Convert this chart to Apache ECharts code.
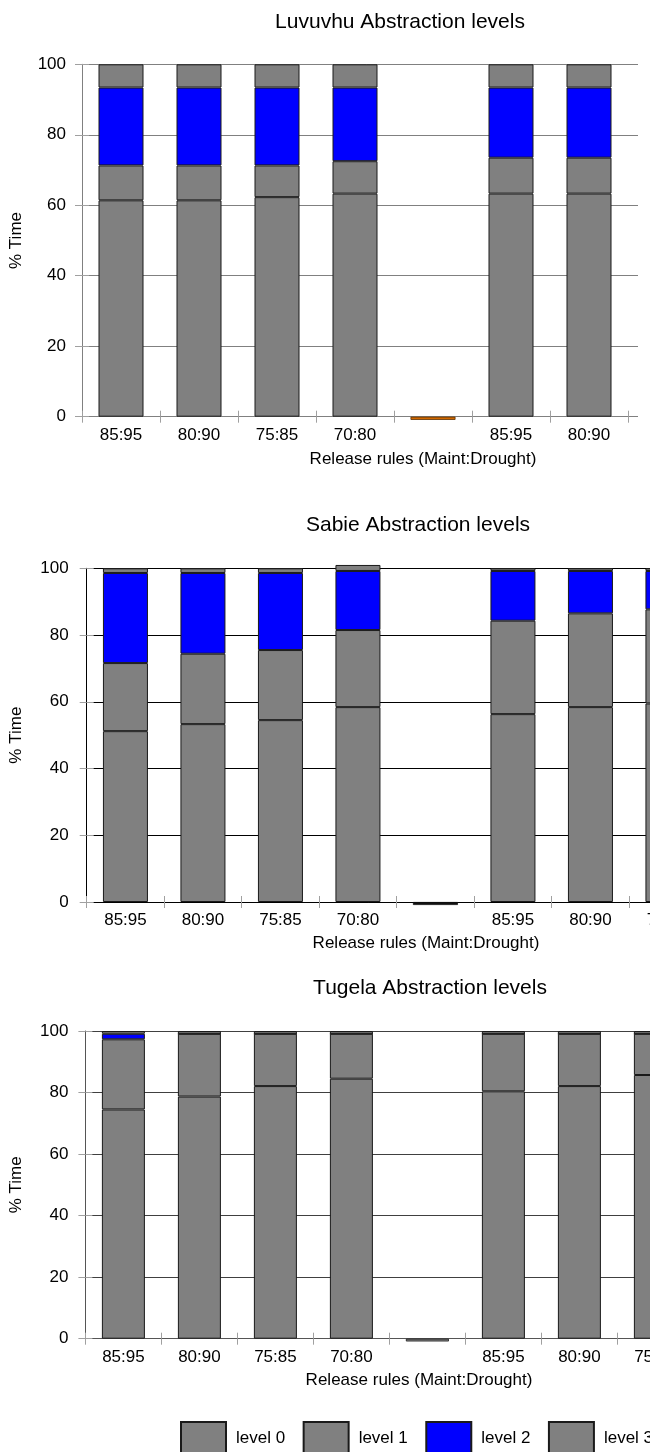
<!DOCTYPE html>
<html>
<head>
<meta charset="utf-8">
<script src="https://cdn.jsdelivr.net/npm/echarts@6/dist/echarts.min.js"></script>
<style>
  html, body { margin: 0; padding: 0; background: #fff; }
  #chart { width: 650px; height: 1452px; }
</style>
</head>
<body>
<div id="chart"></div>
<script>
// Release rules (Maint:Drought); the fifth slot is an empty spacer category
const categories = ['85:95', '80:90', '75:85', '70:80', '', '85:95', '80:90', '75:85'];
const levelNames = ['level 0', 'level 1', 'level 2', 'level 3'];

// % of time spent at each abstraction level (stacked segments)
const luvuvhuLevel0 = [61.4, 61.4, 62.3, 63.3, null, 63.3, 63.3, null];
const luvuvhuLevel1 = [9.9, 9.9, 9.0, 9.2, null, 10.2, 10.2, null];
const luvuvhuLevel2 = [22.1, 22.1, 22.1, 20.9, null, 19.9, 19.9, null];
const luvuvhuLevel3 = [6.6, 6.6, 6.6, 6.6, null, 6.6, 6.6, null];
const luvuvhuSpacer = [null, null, null, null, -0.9, null, null, null];

const sabieLevel0 = [51.2, 53.3, 54.5, 58.4, null, 56.3, 58.4, 59.5];
const sabieLevel1 = [20.4, 21.1, 21.0, 23.1, null, 28.0, 28.1, 28.2];
const sabieLevel2 = [27.0, 24.2, 23.1, 17.7, null, 14.9, 12.7, 11.5];
const sabieLevel3 = [1.4, 1.4, 1.4, 1.8, null, 0.8, 0.8, 0.8];
const sabieSpacer = [null, null, null, null, -0.9, null, null, null];

const tugelaLevel0 = [74.5, 78.7, 82.1, 84.5, null, 80.4, 82.1, 85.7];
const tugelaLevel1 = [22.8, 20.4, 17.0, 14.6, null, 18.7, 17.0, 13.4];
const tugelaLevel2 = [1.8, 0, 0, 0, null, 0, 0, 0];
const tugelaLevel3 = [0.9, 0.9, 0.9, 0.9, null, 0.9, 0.9, 0.9];
const tugelaSpacer = [null, null, null, null, -0.9, null, null, null];

// value axis ticks
const yMin = 0, yMax = 100, yStep = 20;

const FONT = '"Liberation Sans", Arial, Helvetica, sans-serif';
const levelColors = ['#808080', '#808080', '#0000ff', '#808080'];
const TICK_COLOR = '#a0a0a0';

const panels = [
  {
    title: 'Luvuvhu Abstraction levels',
    levels: [luvuvhuLevel0, luvuvhuLevel1, luvuvhuLevel2, luvuvhuLevel3],
    spacer: luvuvhuSpacer, spacerColor: '#d46a00', spacerBorder: '#5a3000',
    grid: { left: 82, top: 64.3, width: 624, height: 352.4 },
    titleX: 400, titleY: 22, nameX: 423, nameY: 459,
    lineColor: '#808080', splitColor: '#808080',
    barWidth: 45, labelMargin: 16, nameGap: 57
  },
  {
    title: 'Sabie Abstraction levels',
    levels: [sabieLevel0, sabieLevel1, sabieLevel2, sabieLevel3],
    spacer: sabieSpacer, spacerColor: '#111111', spacerBorder: '#111111',
    grid: { left: 86.7, top: 568.3, width: 620, height: 333.7 },
    titleX: 418, titleY: 525, nameX: 426, nameY: 943,
    lineColor: '#000000', splitColor: '#000000',
    barWidth: 45, labelMargin: 18, nameGap: 62
  },
  {
    title: 'Tugela Abstraction levels',
    levels: [tugelaLevel0, tugelaLevel1, tugelaLevel2, tugelaLevel3],
    spacer: tugelaSpacer, spacerColor: '#808080', spacerBorder: '#1a1a1a',
    grid: { left: 85.4, top: 1031, width: 608, height: 307.7 },
    titleX: 430, titleY: 988, nameX: 419, nameY: 1380,
    lineColor: '#555555', splitColor: '#404040',
    barWidth: 43, labelMargin: 17, nameGap: 61
  }
];

const grids = [], xAxes = [], yAxes = [], series = [], graphics = [];

panels.forEach((p, i) => {
  grids.push(Object.assign({ containLabel: false, outerBoundsMode: 'none' }, p.grid));

  // main category axis: labels + ticks below the line
  xAxes.push({
    type: 'category', gridIndex: i, data: categories, position: 'bottom',
    axisLine: { show: true, lineStyle: { color: p.lineColor, width: 1 } },
    axisTick: { show: true, inside: false, length: 6, lineStyle: { color: TICK_COLOR } },
    axisLabel: { interval: 0, margin: 10, color: '#000', fontSize: 17, fontFamily: FONT },
    splitLine: { show: false }
  });
  // companion axis: the same ticks drawn above the line, so they cross it
  xAxes.push({
    type: 'category', gridIndex: i, data: categories, position: 'bottom',
    axisLine: { show: false },
    axisTick: { show: true, inside: true, length: 6, lineStyle: { color: TICK_COLOR } },
    axisLabel: { show: false },
    splitLine: { show: false }
  });

  yAxes.push({
    type: 'value', gridIndex: i, min: yMin, max: yMax, interval: yStep, position: 'left',
    name: '% Time', nameLocation: 'middle', nameGap: p.nameGap, nameRotate: 90,
    nameTextStyle: { color: '#000', fontSize: 17, fontFamily: FONT },
    axisLine: { show: true, lineStyle: { color: p.lineColor, width: 1 } },
    axisTick: { show: true, inside: false, length: 7, lineStyle: { color: TICK_COLOR } },
    axisLabel: { margin: p.labelMargin, color: '#000', fontSize: 17, fontFamily: FONT },
    splitLine: { show: true, lineStyle: { color: p.splitColor, width: 1 } }
  });
  yAxes.push({
    type: 'value', gridIndex: i, min: yMin, max: yMax, interval: yStep, position: 'left',
    axisLine: { show: false },
    axisTick: { show: true, inside: true, length: 7, lineStyle: { color: TICK_COLOR } },
    axisLabel: { show: false },
    splitLine: { show: false }
  });

  p.levels.forEach((vals, k) => {
    series.push({
      type: 'bar', name: levelNames[k], xAxisIndex: 2 * i, yAxisIndex: 2 * i,
      stack: 'panel' + i, data: vals, barWidth: p.barWidth, clip: false,
      itemStyle: { color: levelColors[k], borderColor: '#1a1a1a', borderWidth: 1 },
      emphasis: { disabled: true }
    });
  });
  series.push({
    type: 'bar', name: 'spacer', xAxisIndex: 2 * i, yAxisIndex: 2 * i,
    stack: 'panel' + i, data: p.spacer, barWidth: p.barWidth, clip: false,
    itemStyle: { color: p.spacerColor, borderColor: p.spacerBorder, borderWidth: 0.8 },
    emphasis: { disabled: true }
  });

  graphics.push({
    type: 'text', z: 110,
    style: { text: p.title, x: p.titleX, y: p.titleY, textAlign: 'center', textVerticalAlign: 'middle',
             font: '21px ' + FONT, fill: '#000' }
  });
  graphics.push({
    type: 'text', z: 110,
    style: { text: 'Release rules (Maint:Drought)', x: p.nameX, y: p.nameY, textAlign: 'center',
             textVerticalAlign: 'middle', font: '17px ' + FONT, fill: '#000' }
  });
});

// the top panel's plot area stops short of the right edge
graphics.push({
  type: 'rect', z: 100,
  shape: { x: 638, y: 40, width: 20, height: 420 },
  style: { fill: '#ffffff' }
});

const chart = echarts.init(document.getElementById('chart'), null, { renderer: 'canvas' });
chart.setOption({
  animation: false,
  backgroundColor: '#ffffff',
  textStyle: { fontFamily: FONT },
  grid: grids,
  xAxis: xAxes,
  yAxis: yAxes,
  series: series,
  legend: {
    data: levelNames, left: 180, top: 1421, width: 900, padding: 0,
    itemWidth: 45, itemHeight: 33, itemGap: 17.5, icon: 'rect',
    selectedMode: false,
    textStyle: { color: '#000', fontSize: 17, fontFamily: FONT, padding: [0, 0, 0, 5] }
  },
  graphic: graphics
});
</script>
</body>
</html>
